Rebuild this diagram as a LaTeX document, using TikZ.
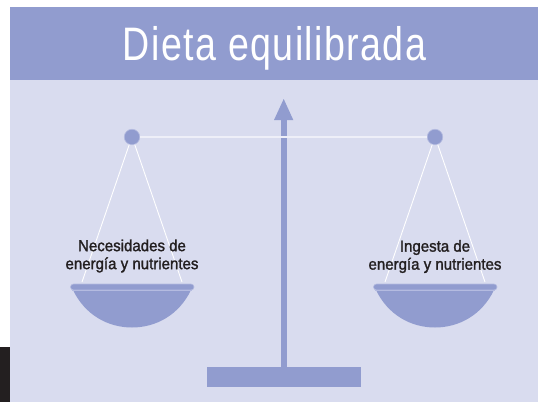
\documentclass[tikz,border=0pt]{standalone}
\usepackage{fontspec}
\setmainfont{Liberation Sans}
\newfontfamily\titlefont[FakeStretch=0.8,LetterSpace=3]{Liberation Sans}
\newfontfamily\labelfont[FakeStretch=0.94,FakeBold=1.5]{Liberation Sans}
\definecolor{dark}{HTML}{919CCF}
\definecolor{pale}{HTML}{D9DCEF}
\definecolor{edgec}{HTML}{B4BBE0}
\definecolor{inkc}{HTML}{231F20}
\tikzset{
  x=1pt,y=-1pt,
  pivot/.style={circle,fill=dark,draw=edgec,line width=0.6pt,minimum size=15.5pt,inner sep=0pt},
  beam/.style={draw=white!55!pale,line width=1.6pt},
  cord/.style={draw=white,line width=0.9pt},
  rim/.style={fill=dark,draw=edgec,line width=0.6pt,rounded corners=3pt},
  bowl/.style={fill=dark},
  seam/.style={draw=edgec,line width=0.7pt},
  lbl/.style={text=inkc,font=\labelfont\fontsize{16}{18}\selectfont,align=center,inner sep=0pt},
  solid part/.style={fill=dark,draw=none}
}
\begin{document}
\begin{tikzpicture}
\useasboundingbox (0,0) rectangle (538,402);
\fill[white] (0,0) rectangle (538,402);
\fill[inkc] (0,347) rectangle (10,402);
\fill[pale] (10,7) rectangle (538,402);
\fill[dark] (10,7) rectangle (538,80);
\node[text=white,font=\titlefont\fontsize{47}{50}\selectfont,inner sep=0pt,anchor=base] (title) at (274.5,60) {Dieta equilibrada};
% stand
\fill[solid part] (207,367) rectangle (361,387);
\fill[solid part] (281,120) rectangle (287,367);
\fill[solid part] (283.7,99) -- (293.3,120) -- (274,120) -- cycle;
% pivots and beam
\node[pivot] (pl) at (132,137) {};
\node[pivot] (pr) at (435,137) {};
\draw[beam] (pl) -- (pr);
% left pan
\coordinate (la) at (82,282);
\coordinate (lb) at (182,282);
\draw[cord] (pl.-110) -- (la);
\draw[cord] (pl.-70) -- (lb);
\fill[bowl] (73,290) .. controls (85,315) and (108,327.5) .. (132,327.5) .. controls (156,327.5) and (179,315) .. (191,290) -- cycle;
\draw[rim] (70.5,284) rectangle (194,290);
\draw[seam] (72,290.3) -- (192,290.3);
% right pan
\coordinate (ra) at (385,282);
\coordinate (rb) at (485,282);
\draw[cord] (pr.-110) -- (ra);
\draw[cord] (pr.-70) -- (rb);
\fill[bowl] (376,290) .. controls (388,315) and (411,327.5) .. (435,327.5) .. controls (459,327.5) and (482,315) .. (494,290) -- cycle;
\draw[rim] (373.5,284) rectangle (497,290);
\draw[seam] (375,290.3) -- (495,290.3);
% labels
\node[lbl] (ln) at (132,256) {Necesidades de\\energía y nutrientes};
\node[lbl] (rn) at (435,256.5) {Ingesta de\\energía y nutrientes};
\end{tikzpicture}
\end{document}
